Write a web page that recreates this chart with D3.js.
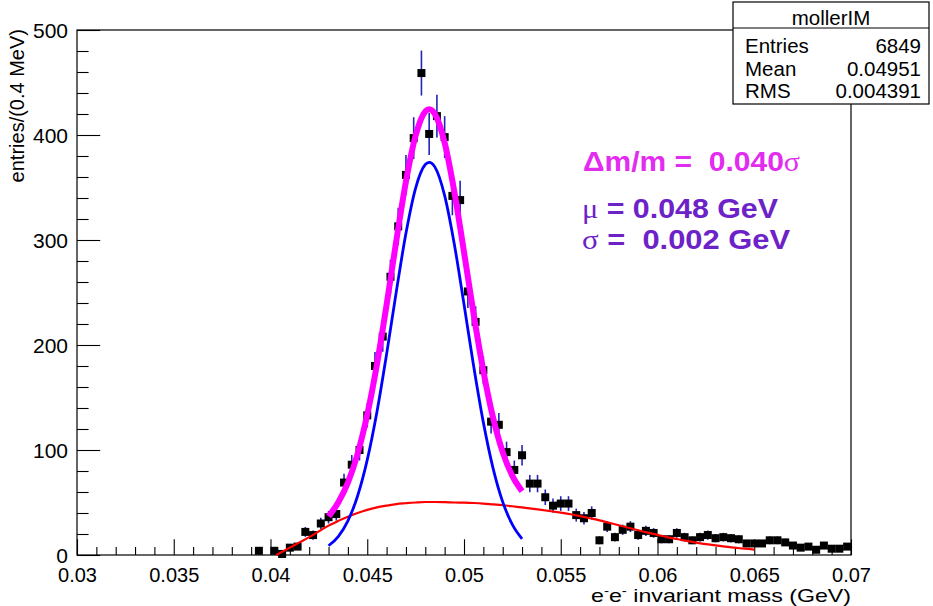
<!DOCTYPE html>
<html><head><meta charset="utf-8">
<script src="https://cdn.jsdelivr.net/npm/d3@7/dist/d3.min.js"></script>
<style>
body{margin:0;background:#fff}
svg{display:block}
text{font-family:"Liberation Sans",Arial,Helvetica,sans-serif}
</style>
</head><body>
<svg id="c" width="933" height="606"></svg>
<script>
// ---------------- data ----------------
const binMass = [0.0394,0.0402,0.0406,0.0410,0.0414,0.0418,0.0422,0.0426,0.0430,0.0434,
  0.0438,0.0442,0.0446,0.0450,0.0454,0.0458,0.0462,0.0466,0.0470,0.0474,
  0.0478,0.0482,0.0486,0.0490,0.0494,0.0498,0.0502,0.0506,0.0510,0.0514,
  0.0518,0.0522,0.0526,0.0530,0.0534,0.0538,0.0542,0.0546,0.0550,0.0554,
  0.0558,0.0562,0.0566,0.0570,0.0574,0.0578,0.0582,0.0586,0.0590,0.0594,
  0.0598,0.0602,0.0606,0.0610,0.0614,0.0618,0.0622,0.0626,0.0630,0.0634,
  0.0638,0.0642,0.0646,0.0650,0.0654,0.0658,0.0662,0.0666,0.0670,0.0674,
  0.0678,0.0682,0.0686,0.0690,0.0694,0.0698];
const binCounts = [4,4,1,7,8,22,19,30,36,39,
  69,86,100,133,180,208,265,313,362,397,
  459,401,418,398,342,338,251,222,176,127,
  124,98,81,95,68,68,55,47,49,49,
  38,35,40,14,27,17,24,27,19,23,
  21,15,15,21,17,14,17,19,16,17,
  16,15,11,11,11,14,14,12,9,7,
  8,5,9,6,6,8];

const fitMass   = [0.0430,0.0435,0.0440,0.0445,0.0450,0.0455,0.0460,0.0465,0.0470,0.0475,0.0480,0.0482,0.0485,0.0490,0.0495,0.0500,0.0505,0.0510,0.0515,0.0520,0.0525,0.0530];
const signalFit = [8.8,17.5,32.5,56.2,90.6,136.2,191.3,250.6,306.4,349.5,371.9,374,369.4,342.3,296.0,238.8,179.8,126.3,82.8,50.6,28.9,15.4];
const totalFit  = [36.8,50,69,96.2,133.6,181.5,238.3,299.1,355.7,399.5,422.4,424.5,419.9,392.6,346,288.6,229.3,175.3,131,98,75.3,60.7];

const bkgMass = [0.0403,0.0410,0.0415,0.0420,0.0425,0.0430,0.0435,0.0440,0.0445,0.0450,0.0455,0.0460,0.0465,0.0470,0.0475,0.0480,0.0485,0.0490,0.0495,0.0500,
  0.0505,0.0510,0.0515,0.0520,0.0525,0.0530,0.0535,0.0540,0.0545,0.0550,0.0555,0.0560,0.0565,0.0570,0.0575,0.0580,0.0585,0.0590,0.0595,0.0600,
  0.0605,0.0610,0.0615,0.0620,0.0625,0.0630,0.0635,0.0640,0.0645,0.0650];
const bkgFit = [0,7,12,17,22.5,28,32.5,36.5,40,43,45.3,47,48.5,49.3,50,50.5,50.5,50.3,50,49.8,
  49.5,49,48.2,47.4,46.4,45.3,44.2,43,41.7,40.3,38.8,37,35,33,30.7,28.3,26,23.6,21.3,19.2,
  17,15.2,13.5,11.8,10.3,9.2,8,7,6,5.2];

const xMajorTicks = [0.03,0.035,0.04,0.045,0.05,0.055,0.06,0.065,0.07];
const xTickLabels = ["0.03","0.035","0.04","0.045","0.05","0.055","0.06","0.065","0.07"];
const yMajorTicks = [0,100,200,300,400,500];
const yTickLabels = ["0","100","200","300","400","500"];

const statsTitle = "mollerIM";
const statsNames = ["Entries","Mean","RMS"];
const statsValues = ["6849","0.04951","0.004391"];

// ---------------- drawing ----------------
const svg = d3.select("#c");
const L=77, R=851, T=30, B=555;
const x = d3.scaleLinear().domain([0.03,0.07]).range([L,R]);
const y = d3.scaleLinear().domain([0,500]).range([B,T]);

const xMinor = d3.range(0,41).map(i=>0.03+i*0.001).filter(v=>!xMajorTicks.some(m=>Math.abs(m-v)<1e-9));
const yMinor = d3.range(0,26).map(i=>i*20).filter(v=>v%100!==0);

// frame
svg.append("rect").attr("x",L).attr("y",T).attr("width",R-L).attr("height",B-T)
  .attr("fill","none").attr("stroke","#000").attr("stroke-width",1.2);

// x axis
const gxm = svg.append("g").attr("transform",`translate(0,${B})`)
  .call(d3.axisBottom(x).tickValues(xMinor).tickSizeInner(-8).tickSizeOuter(0).tickFormat(""));
gxm.select(".domain").remove();
const gx = svg.append("g").attr("transform",`translate(0,${B})`)
  .call(d3.axisBottom(x).tickValues(xMajorTicks).tickSizeInner(-15.7).tickSizeOuter(0)
    .tickFormat((d,i)=>xTickLabels[i]));
gx.select(".domain").remove();
gx.selectAll("text").attr("y",27).attr("dy",null).attr("font-size",20)
  .attr("font-family",'"Liberation Sans",Arial,sans-serif').attr("fill","#000");

// y axis
const gym = svg.append("g").attr("transform",`translate(${L},0)`)
  .call(d3.axisLeft(y).tickValues(yMinor).tickSizeInner(-11.6).tickSizeOuter(0).tickFormat(""));
gym.select(".domain").remove();
const gy = svg.append("g").attr("transform",`translate(${L},0)`)
  .call(d3.axisLeft(y).tickValues(yMajorTicks).tickSizeInner(-23.2).tickSizeOuter(0)
    .tickFormat((d,i)=>yTickLabels[i]));
gy.select(".domain").remove();
gy.selectAll("text").attr("x",-9).attr("dy","0.36em").attr("font-size",21)
  .attr("font-family",'"Liberation Sans",Arial,sans-serif').attr("fill","#000");
svg.selectAll(".tick line").attr("stroke","#000").attr("stroke-width",1.1);

// axis titles
svg.append("text").attr("transform",`translate(24,${T-1}) rotate(-90)`)
  .attr("text-anchor","end").attr("font-size",20).text("entries/(0.4 MeV)");
const xt = svg.append("text").attr("x",R).attr("y",602).attr("text-anchor","end").attr("font-size",18.5)
  .attr("textLength",260).attr("lengthAdjust","spacingAndGlyphs");
xt.append("tspan").text("e");
xt.append("tspan").attr("dy",-7).attr("font-size",12).text("-");
xt.append("tspan").attr("dy",7).text("e");
xt.append("tspan").attr("dy",-7).attr("font-size",12).text("-");
xt.append("tspan").attr("dy",7).text(" invariant mass (GeV)");

// data: error bars then markers
const pts = binMass.map((m,i)=>({m, c:binCounts[i]}));
svg.append("g").selectAll("line").data(pts).join("line")
  .attr("x1",d=>x(d.m)).attr("x2",d=>x(d.m))
  .attr("y1",d=>y(d.c+Math.sqrt(d.c))).attr("y2",d=>y(Math.max(0,d.c-Math.sqrt(d.c))))
  .attr("stroke","#2424b8").attr("stroke-width",1.6);
svg.append("g").selectAll("rect").data(pts).join("rect")
  .attr("x",d=>x(d.m)-4).attr("y",d=>y(d.c)-4).attr("width",8).attr("height",8)
  .attr("fill","#000");

// fit curves
const line = d3.line().x(d=>x(d[0])).y(d=>y(d[1])).curve(d3.curveMonotoneX);
svg.append("path").attr("d",line(bkgMass.map((m,i)=>[m,bkgFit[i]])))
  .attr("fill","none").attr("stroke","#ff0000").attr("stroke-width",2.2);
svg.append("path").attr("d",line(fitMass.map((m,i)=>[m,signalFit[i]])))
  .attr("fill","none").attr("stroke","#0000ff").attr("stroke-width",2.8);
svg.append("path").attr("d",line(fitMass.map((m,i)=>[m,totalFit[i]])))
  .attr("fill","none").attr("stroke","#ff00ff").attr("stroke-width",6);

// annotations
const serif = '"Liberation Serif","DejaVu Serif",serif';
const a1 = svg.append("text").attr("x",583).attr("y",171).attr("font-size",27)
  .attr("font-weight","bold").attr("fill","#e22cf0").style("white-space","pre")
  .attr("textLength",217).attr("lengthAdjust","spacingAndGlyphs");
a1.append("tspan").text("\u0394m/m =  0.040");
a1.append("tspan").attr("font-family",serif).attr("font-weight","normal").text("\u03c3");
const a2 = svg.append("text").attr("x",582).attr("y",218).attr("font-size",27)
  .attr("font-weight","bold").attr("fill","#6c22c8").style("white-space","pre")
  .attr("textLength",196).attr("lengthAdjust","spacingAndGlyphs");
a2.append("tspan").attr("font-family",serif).attr("font-weight","normal").text("\u03bc");
a2.append("tspan").text(" = 0.048 GeV");
const a3 = svg.append("text").attr("x",582).attr("y",249).attr("font-size",27)
  .attr("font-weight","bold").attr("fill","#6c22c8").style("white-space","pre")
  .attr("textLength",208).attr("lengthAdjust","spacingAndGlyphs");
a3.append("tspan").attr("font-family",serif).attr("font-weight","normal").text("\u03c3");
a3.append("tspan").text(" =  0.002 GeV");

// stats box
const bx=733, by=2, bw=196, bh=102;
svg.append("rect").attr("x",bx).attr("y",by).attr("width",bw).attr("height",bh)
  .attr("fill","#fff").attr("stroke","#000").attr("stroke-width",1.2);
svg.append("line").attr("x1",bx).attr("x2",bx+bw).attr("y1",28).attr("y2",28).attr("stroke","#000").attr("stroke-width",1.2);
svg.append("text").attr("x",bx+bw/2).attr("y",25).attr("text-anchor","middle").attr("font-size",20.5).text(statsTitle);
const rowY = [53,76,98];
statsNames.forEach((n,i)=>{
  svg.append("text").attr("x",745).attr("y",rowY[i]).attr("font-size",20.5).text(n);
  svg.append("text").attr("x",921).attr("y",rowY[i]).attr("text-anchor","end").attr("font-size",20.5).text(statsValues[i]);
});
</script>
</body></html>
